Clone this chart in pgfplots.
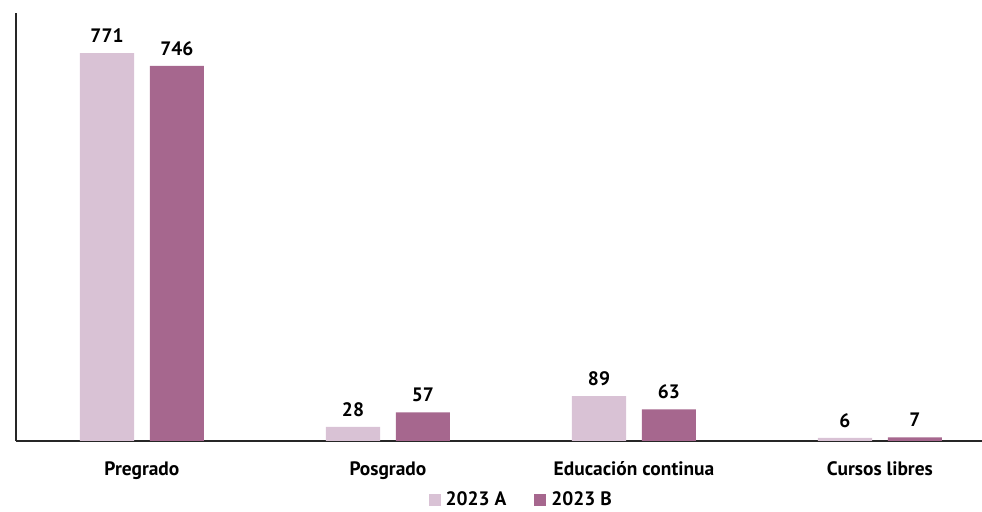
\documentclass[border=0pt]{standalone}
\usepackage{pgfplots}
\pgfplotsset{compat=1.18}
\usepackage{fontspec}
\setmainfont{PT Sans}
\definecolor{lightA}{HTML}{D9C2D5}
\definecolor{darkB}{HTML}{A6678E}
\begin{document}
\begin{tikzpicture}
\useasboundingbox (0,0) rectangle (982bp,512bp);
\begin{axis}[
  at={(16bp,71bp)}, anchor=south west,
  scale only axis, width=966bp, height=428bp,
  ybar, bar width=0.22,
  xmin=-0.512, xmax=3.415, ymin=0, ymax=851,
  xtick=data, xticklabels={Pregrado,Posgrado,Educación continua,Cursos libres},
  ytick=\empty,
  major tick length=0,
  axis x line*=bottom, axis y line*=left,
  axis line style={-, line width=1.2bp, color=black!85},
  xticklabel style={font=\fontsize{19.5}{22}\selectfont\bfseries, yshift=-17bp},
  nodes near coords,
  every node near coord/.append style={font=\fontsize{19.5}{22}\selectfont\bfseries, yshift=7bp},
  /pgf/number format/assume math mode=true,
  legend style={draw=none, at={(0.523,-0.137)}, anchor=center, legend columns=2,
    font=\fontsize{19.5}{22}\selectfont\bfseries, inner sep=0pt,
    /tikz/every odd column/.append style={column sep=3bp},
    /tikz/every even column/.append style={column sep=26bp}},
  legend image code/.code={\fill[#1] (0bp,-6bp) rectangle (12bp,6bp);},
]
\addplot[fill=lightA, draw=none, bar shift=-0.142] coordinates {(0,771) (1,28) (2,89) (3,6)};
\addplot[fill=darkB, draw=none, bar shift=0.142] coordinates {(0,746) (1,57) (2,63) (3,7)};
\legend{2023 A, 2023 B}
\end{axis}
\end{tikzpicture}
\end{document}
